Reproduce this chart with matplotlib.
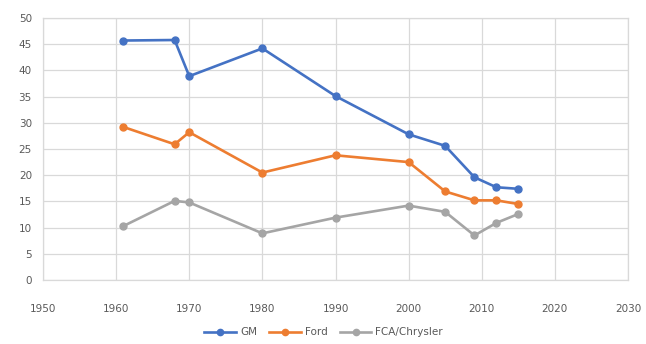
import matplotlib
matplotlib.use("Agg")
import matplotlib.pyplot as plt

years = [1961, 1968, 1970, 1980, 1990, 2000, 2005, 2009, 2012, 2015]
gm = [45.7, 45.8, 38.9, 44.2, 35.1, 27.8, 25.6, 19.6, 17.7, 17.4]
ford = [29.2, 25.9, 28.2, 20.5, 23.8, 22.5, 16.9, 15.2, 15.2, 14.5]
fca = [10.3, 15.1, 14.8, 8.9, 11.9, 14.2, 13.0, 8.5, 10.9, 12.6]

x_ticks = list(range(1950, 2031, 10))
y_ticks = list(range(0, 51, 5))

grid_c = "#d9d9d9"
text_c = "#595959"

fig = plt.figure(figsize=(6.46, 3.44), dpi=100)
ax = fig.add_axes([43 / 646, 1 - 280 / 344, (628 - 43) / 646, (280 - 18) / 344])

series = [("GM", gm, "#4472c4"), ("Ford", ford, "#ed7d31"), ("FCA/Chrysler", fca, "#a5a5a5")]
for name, vals, col in series:
    ax.plot(years, vals, color=col, lw=1.9, marker="o", ms=5, label=name)

ax.set_xlim(1950, 2030)
ax.set_ylim(0, 50)
ax.set_xticks(x_ticks)
ax.set_yticks(y_ticks)
ax.grid(True, color=grid_c, lw=0.9)
ax.set_axisbelow(True)
for s in ax.spines.values():
    s.set_color(grid_c)
    s.set_linewidth(0.9)
ax.tick_params(length=0, colors=text_c, labelsize=7.5)
ax.tick_params(axis="x", pad=17)
ax.tick_params(axis="y", pad=8)

ax.legend(loc="center", bbox_to_anchor=(0.48, -0.2), ncol=3, frameon=False,
          fontsize=7.5, labelcolor=text_c, handlelength=3, handletextpad=0.4,
          columnspacing=1.2, markerscale=0.9)

fig.savefig("out.png", dpi=100)
